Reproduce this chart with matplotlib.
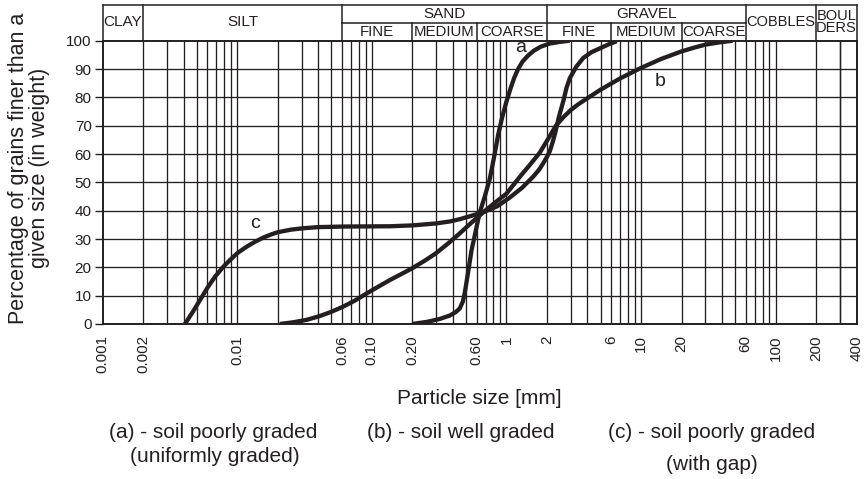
import numpy as np
import matplotlib.pyplot as plt
import matplotlib.transforms as mtransforms

plt.rcParams['font.family'] = ['Liberation Sans', 'DejaVu Sans']

# Grain size curves (particle size in mm, percent finer)
a_size = [0.2, 0.26, 0.32, 0.38, 0.42, 0.45, 0.475, 0.49, 0.51, 0.53, 0.55, 0.58, 0.63, 0.69,
          0.75, 0.81, 0.87, 0.93, 1.0, 1.07, 1.14, 1.22, 1.32, 1.45, 1.6, 1.8, 2.1, 2.5, 2.95]
a_pct = [0, 0.8, 1.8, 3, 4.2, 5.5, 8, 11, 16, 21, 26, 31, 39, 45,
         51, 59, 67, 73, 78.5, 83, 86.8, 90, 92.7, 94.8, 96.5, 97.9, 99, 99.6, 100]

b_size = [0.0207, 0.026, 0.033, 0.041, 0.05, 0.061, 0.075, 0.0915, 0.11, 0.136, 0.165, 0.2,
          0.25, 0.3, 0.37, 0.45, 0.55, 0.675, 0.82, 1.0, 1.26, 1.5, 1.77, 2.05, 2.33, 2.65,
          3.0, 3.45, 3.94, 5.0, 7.0, 9.9, 14, 19.9, 25, 30, 38, 48]
b_pct = [0, 0.6, 1.5, 2.8, 4.3, 6.1, 8.3, 10.8, 13, 15.5, 17.6, 19.7,
         22.5, 25, 28.5, 32, 35.8, 39.5, 42.8, 46, 52, 56.3, 60.5, 65.5, 70, 73,
         75.5, 77.7, 79.5, 82.7, 86.7, 90.3, 93.5, 96.2, 97.6, 98.6, 99.4, 100]

c_size = [0.00408, 0.0047, 0.00529, 0.006, 0.00683, 0.0078, 0.00883, 0.01, 0.01174, 0.0135,
          0.0156, 0.0178, 0.02, 0.025, 0.0309, 0.04, 0.0613, 0.136, 0.2, 0.3, 0.38, 0.45,
          0.55, 0.675, 0.85, 1.05, 1.3, 1.58, 1.75, 1.88, 2.0, 2.1, 2.2, 2.3, 2.45, 2.64,
          2.8, 2.96, 3.3, 3.72, 4.3, 5.0, 5.8, 6.6]
c_pct = [0, 4.5, 8.5, 12.8, 16.7, 20, 22.6, 25, 27.3, 29,
         30.5, 31.6, 32.4, 33.3, 33.8, 34.2, 34.4, 34.5, 34.8, 35.5, 36.2, 37,
         38.2, 39.5, 41.5, 44.5, 48, 52, 54.5, 56.8, 59, 61, 64, 67.4, 73, 78.5,
         83.5, 86.8, 90.8, 93.9, 96, 97.4, 98.8, 99.8]

xtick_vals = [0.001, 0.002, 0.01, 0.06, 0.1, 0.2, 0.6, 1, 2, 6, 10, 20, 60, 100, 200, 400]
xtick_labels = ['0.001', '0.002', '0.01', '0.06', '0.10', '0.20', '0.60', '1', '2', '6',
                '10', '20', '60', '100', '200', '400']

# Soil classification header: (left, right, label)
main_classes = [(0.001, 0.002, 'CLAY'), (0.002, 0.06, 'SILT'), (60, 200, 'COBBLES'),
                (200, 400, 'BOUL\nDERS')]
group_classes = [(0.06, 2, 'SAND'), (2, 60, 'GRAVEL')]
sub_classes = [(0.06, 0.2, 'FINE'), (0.2, 0.6, 'MEDIUM'), (0.6, 2, 'COARSE'),
               (2, 6, 'FINE'), (6, 20, 'MEDIUM'), (20, 60, 'COARSE')]

ink = '#231f20'

fig = plt.figure(figsize=(8.67, 4.79), dpi=100)
ax = fig.add_axes([0.1185, 0.3236, 0.8695, 0.5914])
ax.set_xscale('log')
ax.set_xlim(0.001, 400)
ax.set_ylim(0, 100)

# grid: every 1..9 x decade, and every 10 %
grid_x = [m * 10.0 ** e for e in range(-3, 3) for m in range(1, 10)]
grid_x = [g for g in grid_x if 0.001 < g < 400] + [300]
for g in grid_x:
    ax.axvline(g, color=ink, lw=0.95, zorder=1)
for yv in range(10, 100, 10):
    ax.axhline(yv, color=ink, lw=0.95, zorder=1)

for xs, ys in [(a_size, a_pct), (b_size, b_pct), (c_size, c_pct)]:
    ax.plot(xs, ys, color=ink, lw=3.1, solid_joinstyle='round', solid_capstyle='butt', zorder=3)

ax.text(1.28, 97.5, 'a', fontsize=14, ha='center', va='center', color=ink)
ax.text(13.8, 85.5, 'b', fontsize=14, ha='center', va='center', color=ink)
ax.text(0.0135, 35.5, 'c', fontsize=14, ha='center', va='center', color=ink)

for sp in ax.spines.values():
    sp.set_color(ink)
    sp.set_linewidth(1.4)

ax.set_yticks(range(0, 101, 10))
ax.tick_params(axis='y', direction='out', length=6, width=1, color=ink, labelsize=11,
               labelcolor=ink, pad=2)
ax.set_xticks(xtick_vals)
ax.set_xticklabels(xtick_labels, rotation=90, fontsize=11, color=ink)
ax.xaxis.set_minor_locator(plt.NullLocator())
ax.tick_params(axis='x', length=0, pad=8)

ax.set_xlabel('Particle size [mm]', fontsize=15, color=ink, labelpad=11)
fig.text(29 / 867, 1 - 168 / 479, 'Percentage of grains finer than a\ngiven size (in weight)',
         fontsize=15.5, color=ink, rotation=90, ha='center', va='center',
         multialignment='center', linespacing=1.05)

# header table above the plot
trans = mtransforms.blended_transform_factory(ax.transData, ax.transAxes)
y_top, y_mid, y_bot = 1.126, 1.0614, 1.0
hl = dict(color=ink, lw=1.1, transform=trans, clip_on=False)
ax.plot([0.001, 400], [y_top, y_top], **hl)
ax.plot([0.06, 60], [y_mid, y_mid], **hl)
for x in [0.001, 0.002, 0.06, 2, 60, 200, 400]:
    ax.plot([x, x], [y_bot, y_top], **hl)
for x in [0.2, 0.6, 6, 20]:
    ax.plot([x, x], [y_bot, y_mid], **hl)

def mid(l, r):
    return np.sqrt(l * r)

for l, r, s in main_classes:
    if 'DERS' in s:
        ax.text(mid(l, r), (y_top + y_bot) / 2 + 0.004, s, transform=trans, ha='center',
                va='center', fontsize=10.5, color=ink, linespacing=0.78)
    else:
        fs = 10.5 if s == 'COBBLES' else 11
        ax.text(mid(l, r), (y_top + y_bot) / 2 + 0.004, s, transform=trans, ha='center',
                va='center', fontsize=fs, color=ink)
for l, r, s in group_classes:
    ax.text(mid(l, r), (y_top + y_mid) / 2, s, transform=trans, ha='center', va='center',
            fontsize=11, color=ink)
for l, r, s in sub_classes:
    ax.text(mid(l, r), (y_mid + y_bot) / 2, s, transform=trans, ha='center', va='center',
            fontsize=10.8, color=ink)

# captions
caption = dict(fontsize=15, ha='center', va='center', color=ink)
fig.text(213 / 867, 1 - 432 / 479, '(a) - soil poorly graded', **caption)
fig.text(215 / 867, 1 - 457 / 479, '(uniformly graded)', **caption)
fig.text(461 / 867, 1 - 432 / 479, '(b) - soil well graded', **caption)
fig.text(712 / 867, 1 - 432 / 479, '(c) - soil poorly graded', **caption)
fig.text(712 / 867, 1 - 465 / 479, '(with gap)', **caption)

fig.savefig('out.png', dpi=100)
